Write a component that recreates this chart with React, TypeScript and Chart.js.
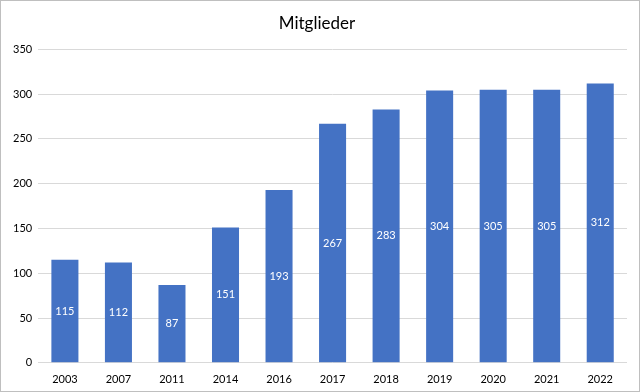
import React, { useEffect, useRef } from "react";
import { Chart, registerables } from "chart.js";

Chart.register(...registerables);

const categories = ["2003", "2007", "2011", "2014", "2016", "2017", "2018", "2019", "2020", "2021", "2022"];
const members = [115, 112, 87, 151, 193, 267, 283, 304, 305, 305, 312];
const yTicks = [0, 50, 100, 150, 200, 250, 300, 350];

const FONT = "Lato, 'Open Sans', sans-serif";

const valueLabels = {
  id: "valueLabels",
  afterDatasetsDraw(chart: any) {
    const ctx = chart.ctx;
    const meta = chart.getDatasetMeta(0);
    ctx.save();
    ctx.fillStyle = "#FFFFFF";
    ctx.font = `11px ${FONT}`;
    ctx.textAlign = "center";
    ctx.textBaseline = "middle";
    meta.data.forEach((bar: any, i: number) => {
      const y = (bar.y + bar.base) / 2;
      ctx.fillText(String(members[i]), bar.x, y);
    });
    ctx.restore();
  },
};

export default function App() {
  const ref = useRef<HTMLCanvasElement | null>(null);
  useEffect(() => {
    document.body.style.margin = "0";
    if (!ref.current) return;
    const chart = new Chart(ref.current, {
      type: "bar",
      data: {
        labels: categories,
        datasets: [
          {
            data: members,
            backgroundColor: "#4472C4",
            barPercentage: 0.505,
            categoryPercentage: 1,
          },
        ],
      },
      options: {
        animation: false,
        responsive: false,
        maintainAspectRatio: false,
        layout: { padding: { left: 6, right: 12, top: 6, bottom: 3 } },
        plugins: {
          legend: { display: false },
          tooltip: { enabled: false },
          title: {
            display: true,
            text: "Mitglieder",
            color: "#000000",
            font: { family: FONT, size: 17, weight: "normal" },
            padding: { top: 6, bottom: 16 },
          },
        },
        scales: {
          x: {
            grid: { display: false },
            border: { display: false },
            ticks: { color: "#000000", font: { family: FONT, size: 11 }, padding: 2 },
          },
          y: {
            min: 0,
            max: 350,
            afterBuildTicks: (axis: any) => {
              axis.ticks = yTicks.map((v) => ({ value: v }));
            },
            grid: { color: "#D9D9D9", drawTicks: false },
            border: { display: false },
            ticks: { color: "#000000", font: { family: FONT, size: 11 }, padding: 6 },
          },
        },
      },
      plugins: [valueLabels],
    });
    return () => chart.destroy();
  }, []);
  return (
    <div style={{ width: 640, height: 392, boxSizing: "border-box", border: "1px solid #BFBFBF", background: "#fff" }}>
      <canvas ref={ref} width={638} height={390} style={{ display: "block" }} />
    </div>
  );
}
